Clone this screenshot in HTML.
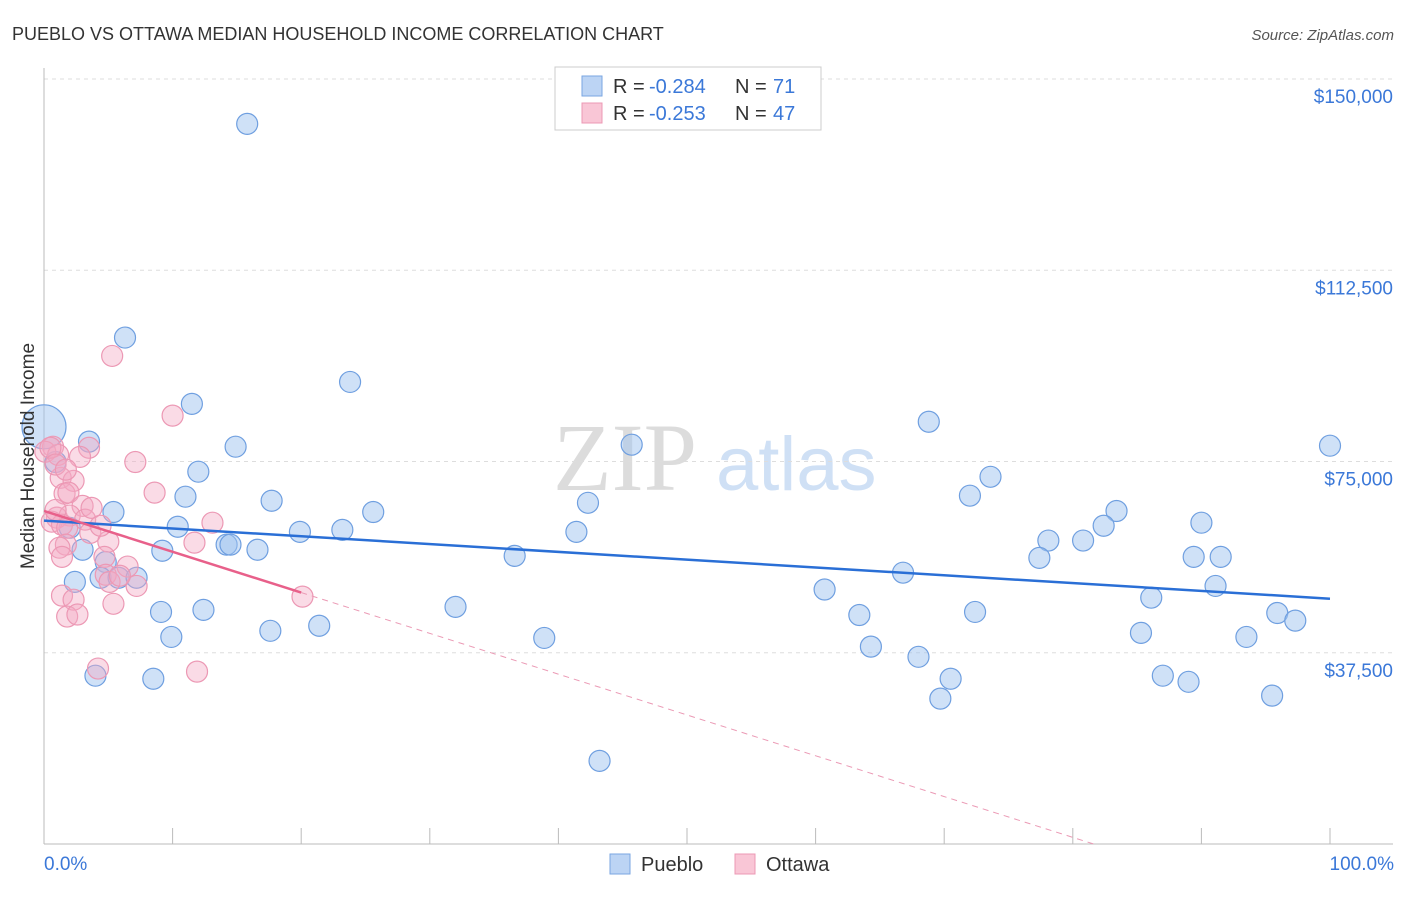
<!DOCTYPE html>
<html><head><meta charset="utf-8"><style>
body{margin:0;background:#fff;font-family:"Liberation Sans",sans-serif;}
svg text{font-family:"Liberation Sans",sans-serif;}
</style></head><body>
<svg id="chart" width="1406" height="892" xmlns="http://www.w3.org/2000/svg">
<text x="12" y="40" font-size="18" fill="#333">PUEBLO VS OTTAWA MEDIAN HOUSEHOLD INCOME CORRELATION CHART</text>
<text x="1394" y="40" font-size="15" fill="#555" text-anchor="end" font-style="italic">Source: ZipAtlas.com</text>
<g>
<text x="553" y="490" font-size="96" fill="#dcdcdc" font-family="Liberation Serif" style="font-family:'Liberation Serif',serif">ZIP</text>
<text x="716" y="490" font-size="76" fill="#cfe0f5">atlas</text>
</g>
<g id="grid"></g>
<g id="axes"></g>
<g id="pts"></g>
<g id="trend"></g>
<text transform="translate(34,456) rotate(-90)" font-size="19" fill="#333" text-anchor="middle">Median Household Income</text>
<g>
<rect x="555" y="67" width="266" height="63" fill="#fff" stroke="#ccc"/>
<rect x="582" y="76" width="20" height="20" fill="#bcd4f4" stroke="#7aa6e2"/>
<rect x="582" y="103" width="20" height="20" fill="#f9c6d6" stroke="#ec98b4"/>
<text x="613" y="93" font-size="20" fill="#333">R =</text>
<text x="649" y="93" font-size="20" fill="#3b78d8">-0.284</text>
<text x="735" y="93" font-size="20" fill="#333">N =</text>
<text x="773" y="93" font-size="20" fill="#3b78d8">71</text>
<text x="613" y="120" font-size="20" fill="#333">R =</text>
<text x="649" y="120" font-size="20" fill="#3b78d8">-0.253</text>
<text x="735" y="120" font-size="20" fill="#333">N =</text>
<text x="773" y="120" font-size="20" fill="#3b78d8">47</text>
</g>
<g>
<rect x="610" y="854" width="20" height="20" fill="#bcd4f4" stroke="#7aa6e2"/>
<text x="641" y="871" font-size="20" fill="#333">Pueblo</text>
<rect x="735" y="854" width="20" height="20" fill="#f9c6d6" stroke="#ec98b4"/>
<text x="766" y="871" font-size="20" fill="#333">Ottawa</text>
</g>
<text x="44" y="870" font-size="19" fill="#3b78d8">0.0%</text>
<text x="1394" y="870" font-size="19" fill="#3b78d8" text-anchor="end">100.0%</text>
</svg>
<script>
const yTicks=[37500,75000,112500,150000];
const yTickLabels=["$37,500","$75,000","$112,500","$150,000"];
const xTicks=[0,10,20,30,40,50,60,70,80,90,100];
const puebloX=[15.8,6.3,23.8,11.5,68.8,3.5,45.7,14.9,100,0.9,12.0,73.6,11.0,72.0,17.7,42.3,5.4,25.6,83.4,10.4,90.0,82.4,23.2,19.9,2.0,41.4,78.1,80.8,9.2,14.2,14.5,16.6,3.0,36.6,77.4,89.4,91.5,4.8,66.8,4.4,5.8,7.2,2.4,91.1,60.7,86.1,32.0,9.1,12.4,63.4,72.4,95.9,97.3,21.4,17.6,85.3,9.9,38.9,93.5,64.3,68.0,4.0,8.5,70.5,87.0,89.0,69.7,95.5,43.2,0];
const puebloY=[141.2,99.3,90.6,86.3,82.8,78.9,78.3,77.9,78.1,74.9,73.0,72.0,68.1,68.3,67.3,66.9,65.1,65.1,65.3,62.2,63.0,62.4,61.6,61.2,62.0,61.2,59.5,59.5,57.5,58.7,58.7,57.7,57.7,56.5,56.1,56.3,56.3,55.3,53.2,52.2,52.2,52.2,51.4,50.6,49.9,48.3,46.5,45.5,45.9,44.9,45.5,45.3,43.8,42.8,41.8,41.4,40.6,40.4,40.6,38.7,36.7,33.0,32.4,32.4,33.0,31.8,28.5,29.1,16.3,81.8];
const ottawaX=[5.3,10.0,0.7,3.5,0.1,1.1,2.8,7.1,1.3,2.3,1.6,8.6,1.9,3.0,1.0,2.0,3.2,13.1,0.6,1.4,1.8,3.6,5.0,11.7,1.7,1.2,4.7,1.4,6.5,4.8,5.1,7.2,20.1,1.4,2.3,5.4,1.8,2.6,4.2,11.9,0.9,0.5,0.9,5.9,1.7,3.7,4.4];
const ottawaY=[95.7,84.0,77.9,77.7,76.9,76.3,75.9,74.9,71.8,71.2,68.7,68.9,68.9,66.3,64.0,64.4,63.6,63.0,63.2,62.6,62.0,61.0,59.3,59.1,58.7,58.1,56.3,56.3,54.4,52.8,51.4,50.6,48.5,48.7,47.9,47.1,44.6,45.0,34.4,33.8,65.5,77.7,74.4,52.6,73.4,65.9,62.4];
const puebloTrend=[63.4,48.1];
const ottawaTrend=[65.3,49.3];
const ottawaTrendEnd=[20,81.6];
const NS="http://www.w3.org/2000/svg";
const X0=44,X1=1330,Y0=844,Y150=79;
const xs=p=>X0+(X1-X0)*p/100;
const ys=v=>Y0-(Y0-Y150)*v/150000;
const yk=v=>ys(v*1000);
function mk(tag,attrs,parent){const e=document.createElementNS(NS,tag);for(const k in attrs)e.setAttribute(k,attrs[k]);document.getElementById(parent).appendChild(e);return e;}
yTicks.forEach((t,i)=>{
 const l=mk('line',{x1:X0,x2:1393,y1:ys(t),y2:ys(t),stroke:'#ddd','stroke-dasharray':'4,4'},'grid');
 
 
 const tx=mk('text',{x:1393,y:ys(t)+24,'font-size':19,fill:'#3b78d8','text-anchor':'end'},'grid');
 tx.textContent=yTickLabels[i];
 
 
});
const ax=mk('line',{x1:X0,x2:X0,y1:68,y2:Y0,stroke:'#bbb'},'axes');


const bx=mk('line',{x1:X0,x2:1393,y1:Y0,y2:Y0,stroke:'#bbb'},'axes');


xTicks.forEach(t=>{
 const l=mk('line',{x1:xs(t),x2:xs(t),y1:Y0,y2:Y0-16,stroke:'#bbb'},'axes');
 
 
});
puebloX.forEach((x,i)=>{
 const big=(i===puebloX.length-1);
 const c=mk('circle',{cx:xs(x),cy:yk(puebloY[i]),r:big?22:10.5,fill:'rgba(160,196,240,0.5)',stroke:'#6f9fe0','stroke-width':1.2},'pts');
 
 
});
ottawaX.forEach((x,i)=>{
 const c=mk('circle',{cx:xs(x),cy:yk(ottawaY[i]),r:10.5,fill:'rgba(244,170,195,0.42)',stroke:'#ec98b4','stroke-width':1.2},'pts');
 
 
});
const bl=mk('line',{x1:xs(0),y1:yk(puebloTrend[0]),x2:xs(100),y2:yk(puebloTrend[1]),stroke:'#2a6fd6','stroke-width':2.5},'trend');


const slope=(ottawaTrend[1]-ottawaTrend[0])/ottawaTrendEnd[0];
const pl=mk('line',{x1:xs(0),y1:yk(ottawaTrend[0]),x2:xs(ottawaTrendEnd[0]),y2:yk(ottawaTrend[1]),stroke:'#e8608a','stroke-width':2.5},'trend');


const pd=mk('line',{x1:xs(ottawaTrendEnd[0]),y1:yk(ottawaTrend[1]),x2:xs(ottawaTrendEnd[1]),y2:yk(ottawaTrend[0]+slope*ottawaTrendEnd[1]),stroke:'#eb9ab5','stroke-width':1,'stroke-dasharray':'6,5'},'trend');


</script>
</body></html>
